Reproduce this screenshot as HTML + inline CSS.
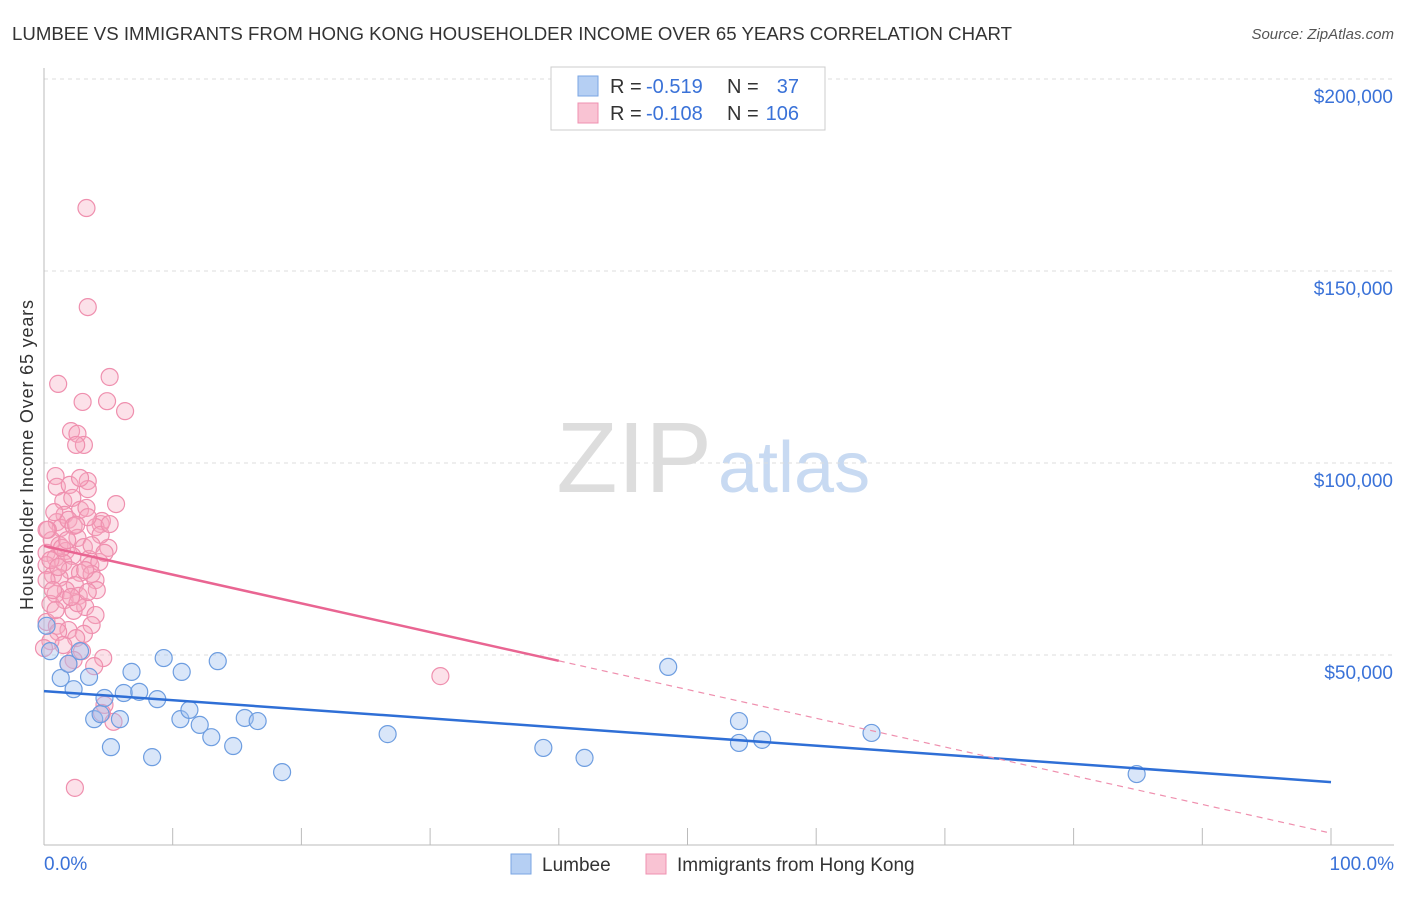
<!DOCTYPE html>
<html><head><meta charset="utf-8"><style>
body{margin:0;background:#fff;font-family:"Liberation Sans",sans-serif;}
svg text{font-family:"Liberation Sans",sans-serif;}
</style></head><body>
<svg id="chart" width="1406" height="892">
<text x="12" y="40" font-size="18" fill="#333" textLength="1000" lengthAdjust="spacingAndGlyphs">LUMBEE VS IMMIGRANTS FROM HONG KONG HOUSEHOLDER INCOME OVER 65 YEARS CORRELATION CHART</text>
<text x="1394" y="39" font-size="15" fill="#555" font-style="italic" text-anchor="end">Source: ZipAtlas.com</text>
<text x="712" y="492" font-size="100" fill="#ddd" text-anchor="end" font-family="Liberation Serif">ZIP</text>
<text x="718" y="492" font-size="72" fill="#c8daf2">atlas</text>
<text transform="translate(33,455) rotate(-90)" font-size="18" fill="#333" text-anchor="middle" textLength="310">Householder Income Over 65 years</text>
<g id="grid"></g><g id="axes"></g><g id="marks"></g>
<g>
<rect x="551" y="67" width="274" height="63" fill="#fff" stroke="#ccc"/>
<rect x="578" y="76" width="20" height="20" fill="#b5cff3" stroke="#7aa6e3"/>
<text x="610" y="93" font-size="20" fill="#333">R =</text>
<text x="646" y="93" font-size="20" fill="#3a72d8">-0.519</text>
<text x="727" y="93" font-size="20" fill="#333">N =</text>
<text x="799" y="93" font-size="20" fill="#3a72d8" text-anchor="end">37</text>
<rect x="578" y="103" width="20" height="20" fill="#f9c3d3" stroke="#ef90b0"/>
<text x="610" y="120" font-size="20" fill="#333">R =</text>
<text x="646" y="120" font-size="20" fill="#3a72d8">-0.108</text>
<text x="727" y="120" font-size="20" fill="#333">N =</text>
<text x="799" y="120" font-size="20" fill="#3a72d8" text-anchor="end">106</text>
</g>
<g>
<rect x="511" y="854" width="20" height="20" fill="#b5cff3" stroke="#7aa6e3"/>
<text x="542" y="871" font-size="19" fill="#333">Lumbee</text>
<rect x="646" y="854" width="20" height="20" fill="#f9c3d3" stroke="#ef90b0"/>
<text x="677" y="871" font-size="19" fill="#333">Immigrants from Hong Kong</text>
</g>
</svg>
<script>
const yTicks=[50000,100000,150000,200000];
const yTickLabels=["$50,000","$100,000","$150,000","$200,000"];
const xTicks=[0,10,20,30,40,50,60,70,80,90,100];
const blueX=[0.47,1.3,2.3,1.9,3.5,2.8,4.7,3.9,4.4,5.2,5.9,6.2,7.4,6.8,8.4,8.8,9.3,10.6,10.7,11.3,12.1,13.0,13.5,14.7,15.6,16.6,18.5,26.7,38.8,42.0,48.5,54.0,54.0,55.8,64.3,84.9,0.2];
const blueY=[51.0,44.0,41.1,47.7,44.3,51.0,38.8,33.3,34.6,26.0,33.3,40.1,40.4,45.6,23.4,38.5,49.2,33.3,45.6,35.7,31.8,28.6,48.4,26.3,33.6,32.8,19.5,29.4,25.8,23.2,46.9,32.8,27.1,27.9,29.7,19.0,57.6];
const pinkX=[3.3,3.4,1.1,5.1,6.3,3.0,4.9,2.1,2.6,3.1,2.5,0.9,1.0,2.0,3.4,3.4,5.6,1.5,2.2,2.8,3.3,4.4,4.5,4.0,1.6,1.0,1.3,1.9,2.3,0.3,0.6,1.2,1.7,2.6,3.1,5.0,0.2,0.9,2.2,3.5,3.6,4.3,0.2,1.5,2.0,2.8,3.7,0.7,1.2,0.2,2.4,4.0,1.7,4.1,0.9,2.7,0.5,1.6,3.2,2.3,4.0,0.2,1.0,1.9,3.7,1.1,3.1,2.5,0.5,2.95,4.6,2.3,3.9,1.9,4.7,4.5,5.4,2.4,30.8,0.2,0.5,1.4,0.7,3.4,4.4,1.8,3.2,2.6,5.1,1.5,0.8,2.5,3.7,1.1,2.1,3.4,4.7,0.9,0,2.8];
const pinkY=[166.4,140.6,120.6,122.4,113.5,115.9,116.1,108.3,107.6,104.7,104.7,96.6,93.8,94.3,95.3,93.2,89.3,90.1,90.9,87.8,88.3,84.1,84.9,83.3,86.5,84.6,83.1,85.2,83.6,82.6,79.9,78.6,77.1,80.5,78.1,77.9,76.6,75.3,75.8,75.0,73.4,74.2,73.4,74.0,72.1,71.4,71.1,70.8,70.1,69.5,68.2,69.5,66.9,66.9,65.9,65.4,63.3,64.3,62.5,61.5,60.4,58.6,57.6,56.5,57.8,56.0,55.5,54.4,53.6,51.0,49.2,48.7,47.1,47.7,37.0,34.9,32.6,15.4,44.5,82.6,74.7,77.9,66.9,85.9,81.3,79.9,72.1,63.5,84.1,52.6,87.2,83.9,78.6,72.9,65.1,66.4,76.6,61.7,51.8,96.1];
const blueTrend=[40.6,16.9];
const pinkTrend=[78.4,3.6];
const pinkSolidEnd=40;
const NS="http://www.w3.org/2000/svg";
const X=p=>44+p*12.87, Y=k=>847-k*3.84;
function mk(t,a,parent){const e=document.createElementNS(NS,t);for(const k in a)e.setAttribute(k,a[k]);document.getElementById(parent).appendChild(e);return e;}
yTicks.forEach((v,i)=>{
 const l=mk('line',{x1:44,x2:1394,y1:Y(v/1000),y2:Y(v/1000),stroke:'#ddd','stroke-dasharray':'4,4'},'grid');
 
 
 const t=mk('text',{x:1393,y:Y(v/1000)+24,'font-size':19,fill:'#3a72d8','text-anchor':'end'},'axes');
 t.textContent=yTickLabels[i];
 
 
});
const ax=mk('line',{x1:44,x2:1394,y1:845,y2:845,stroke:'#bbb'},'axes');


const ay=mk('line',{x1:44,x2:44,y1:68,y2:845,stroke:'#bbb'},'axes');


xTicks.forEach(p=>{const l=mk('line',{x1:X(p),x2:X(p),y1:828,y2:845,stroke:'#bbb'},'axes');
 
 });
[[0,"0.0%",'start',44],[100,"100.0%",'end',1394]].forEach(d=>{const t=mk('text',{x:d[3],y:870,'font-size':19,fill:'#3a72d8','text-anchor':d[2]},'axes');t.textContent=d[1];
 
 });
pinkX.forEach((x,i)=>{const c=mk('circle',{cx:X(x),cy:Y(pinkY[i]),r:8.5,fill:'rgba(246,168,192,0.35)',stroke:'#ef8fae','stroke-width':1.2},'marks');
 
 });
blueX.forEach((x,i)=>{const c=mk('circle',{cx:X(x),cy:Y(blueY[i]),r:8.5,fill:'rgba(160,192,240,0.4)',stroke:'#6d9de0','stroke-width':1.2},'marks');
 
 });
const bt=mk('line',{x1:X(0),y1:Y(blueTrend[0]),x2:X(100),y2:Y(blueTrend[1]),stroke:'#2f6fd6','stroke-width':2.5},'marks');


const py=p=>pinkTrend[0]+(pinkTrend[1]-pinkTrend[0])*p/100;
const pt=mk('line',{x1:X(0),y1:Y(py(0)),x2:X(pinkSolidEnd),y2:Y(py(pinkSolidEnd)),stroke:'#e96592','stroke-width':2.5},'marks');


const pd=mk('line',{x1:X(pinkSolidEnd),y1:Y(py(pinkSolidEnd)),x2:X(100),y2:Y(py(100)),stroke:'#ef8fae','stroke-width':1.2,'stroke-dasharray':'6,5'},'marks');


</script>
</body></html>
